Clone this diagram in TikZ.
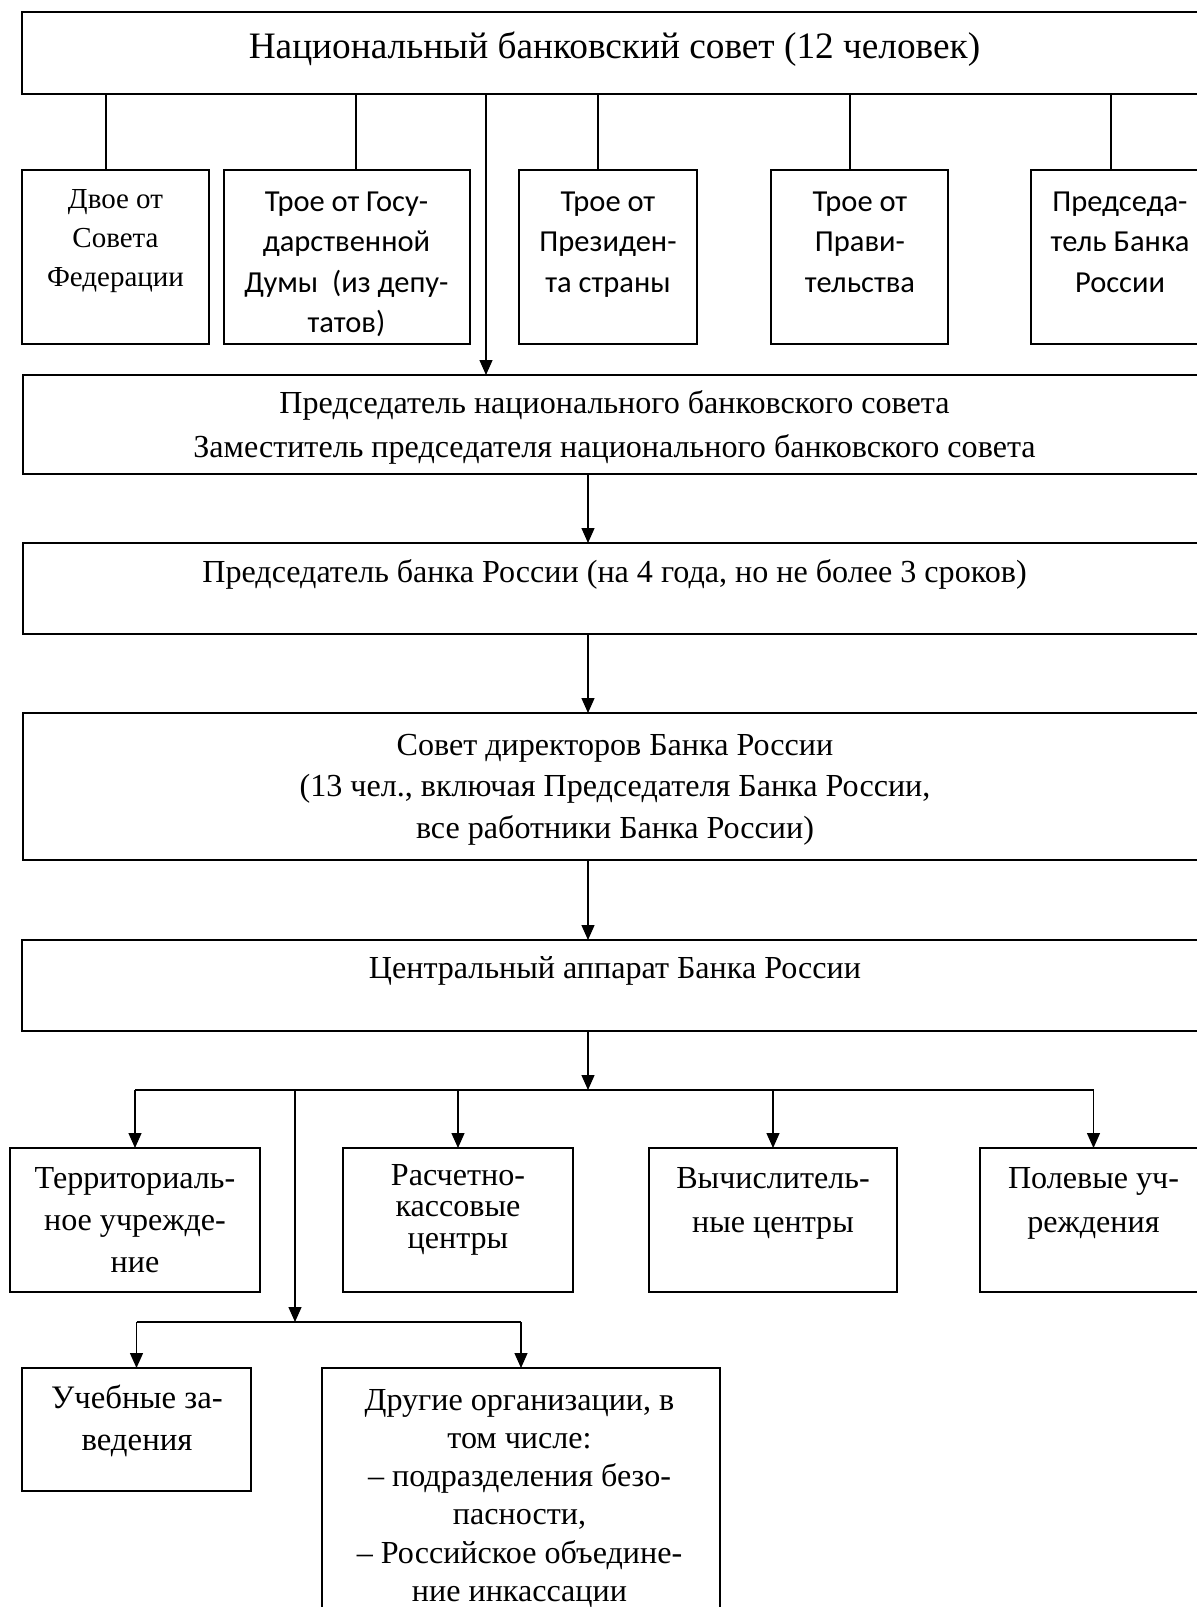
\documentclass[tikz,border=0pt]{standalone}
\usepackage{fontspec}
\setmainfont{Liberation Serif}
\newfontfamily\calib{Carlito}
\usetikzlibrary{arrows.meta}
\newcommand\mlines[1]{\begin{tabular}[t]{@{}c@{}}#1\end{tabular}}
\begin{document}
\begin{tikzpicture}[x=1pt,y=-1pt,
  line width=1.3pt,
  box/.style={draw, rectangle, inner sep=0pt, outer sep=0pt, anchor=north west},
  txt/.style={inner sep=0pt, anchor=base, font=\fontsize{32.1}{41.5}\selectfont},
  stxt/.style={inner sep=0pt, anchor=base, font=\calib\fontsize{30.5}{40.5}\selectfont},
  arr/.style={-{Triangle[length=15pt,width=13pt]}},
]
\useasboundingbox (0,0) rectangle (1197,1607);
\clip (0,0) rectangle (1197,1607);

% boxes
\node[box, minimum width=1186pt, minimum height=82pt]  (top) at (22,12) {};
\node[box, minimum width=187pt, minimum height=174pt] (b1) at (22,170) {};
\node[box, minimum width=246pt, minimum height=174pt] (b2) at (224,170) {};
\node[box, minimum width=178pt, minimum height=174pt] (b3) at (519,170) {};
\node[box, minimum width=177pt, minimum height=174pt] (b4) at (771,170) {};
\node[box, minimum width=178pt, minimum height=174pt] (b5) at (1031,170) {};
\node[box, minimum width=1185pt, minimum height=99pt]  (pn) at (23,375) {};
\node[box, minimum width=1185pt, minimum height=91pt]  (pb) at (23,543) {};
\node[box, minimum width=1185pt, minimum height=147pt] (sd) at (23,713) {};
\node[box, minimum width=1186pt, minimum height=91pt]  (ca) at (22,940) {};
\node[box, minimum width=250pt, minimum height=144pt] (r1) at (10,1148) {};
\node[box, minimum width=230pt, minimum height=144pt] (r2) at (343,1148) {};
\node[box, minimum width=248pt, minimum height=144pt] (r3) at (649,1148) {};
\node[box, minimum width=227pt, minimum height=144pt] (r4) at (980,1148) {};
\node[box, minimum width=229pt, minimum height=123pt] (u1) at (22,1368) {};
\node[box, minimum width=398pt, minimum height=272pt] (u2) at (322,1368) {};

% texts
\node[txt, font=\fontsize{37.3}{44}\selectfont] (ttop) at (614.5,58) {Национальный банковский совет (12 человек)};
\node[txt, font=\fontsize{29}{39}\selectfont] (tb1) at (115.5,208) {\mlines{Двое от\\Совета\\Федерации}};
\node[stxt] (tb2) at (346.5,211) {\mlines{Трое от Госу-\\дарственной\\Думы~ (из депу-\\татов)}};
\node[stxt] (tb3) at (608,211) {\mlines{Трое от\\Президен-\\та страны}};
\node[stxt] (tb4) at (860,211) {\mlines{Трое от\\Прави-\\тельства}};
\node[stxt] (tb5) at (1120,211) {\mlines{Председа-\\тель Банка\\России}};
\node[txt, font=\fontsize{32.1}{44}\selectfont] (tpn) at (614.5,413) {\mlines{Председатель национального банковского совета\\Заместитель председателя национального банковского совета}};
\node[txt] (tpb) at (614.5,582) {Председатель банка России (на 4 года, но не более 3 сроков)};
\node[txt] (tsd) at (615,755) {\mlines{Совет директоров Банка России\\(13 чел., включая Председателя Банка России,\\все работники Банка России)}};
\node[txt] (tca) at (615,978) {Центральный аппарат Банка России};
\node[txt, font=\fontsize{32.1}{42}\selectfont] (tr1) at (135,1188) {\mlines{Территориаль-\\ное учрежде-\\ние}};
\node[txt, font=\fontsize{32.1}{31.5}\selectfont] (tr2) at (458,1185) {\mlines{Расчетно-\\кассовые\\центры}};
\node[txt, font=\fontsize{32.1}{44}\selectfont] (tr3) at (773,1188) {\mlines{Вычислитель-\\ные центры}};
\node[txt, font=\fontsize{32.1}{44}\selectfont] (tr4) at (1093.5,1188) {\mlines{Полевые уч-\\реждения}};
\node[txt, font=\fontsize{32.8}{42}\selectfont] (tu1) at (137,1408) {\mlines{Учебные за-\\ведения}};
\node[txt, font=\fontsize{32.1}{38.3}\selectfont] (tu2) at (519.5,1410) {\mlines{Другие организации, в\\том числе:\\– подразделения безо-\\пасности,\\– Российское объедине-\\ние инкассации}};

% helper coordinates
\coordinate (xa) at (106,0);
\coordinate (xb) at (356,0);
\coordinate (xc) at (486,0);
\coordinate (xd) at (598,0);
\coordinate (xe) at (850,0);
\coordinate (xf) at (1111,0);
\coordinate (ax) at (588,0);
\coordinate (bus) at (588,1090);
\coordinate (br) at (295,1090);
\coordinate (bus2) at (295,1322);

% connectors top
\draw (top.south -| xa) -- (b1.north -| xa);
\draw (top.south -| xb) -- (b2.north -| xb);
\draw[arr] (top.south -| xc) -- (pn.north -| xc);
\draw (top.south -| xd) -- (b3.north -| xd);
\draw (top.south -| xe) -- (b4.north -| xe);
\draw (top.south -| xf) -- (b5.north -| xf);

% main chain
\draw[arr] (pn.south -| ax) -- (pb.north -| ax);
\draw[arr] (pb.south -| ax) -- (sd.north -| ax);
\draw[arr] (sd.south -| ax) -- (ca.north -| ax);
\draw[arr] (ca.south -| ax) -- (bus);

% bus 1
\draw (r1.north |- bus) -- (r4.north |- bus);
\draw[arr] (r1.north |- bus) -- (r1.north);
\draw[arr] (r2.north |- bus) -- (r2.north);
\draw[arr] (r3.north |- bus) -- (r3.north);
\draw[arr] (r4.north |- bus) -- (r4.north);
\draw[arr] (br) -- (bus2);

% bus 2
\draw (u1.north |- bus2) -- (u2.north |- bus2);
\draw[arr] (u1.north |- bus2) -- (u1.north);
\draw[arr] (u2.north |- bus2) -- (u2.north);
\end{tikzpicture}
\end{document}
